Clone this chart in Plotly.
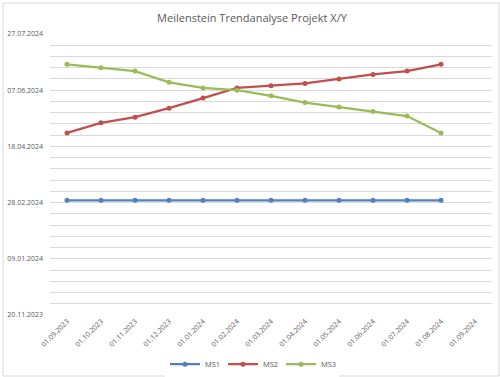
import plotly.graph_objects as go

x_labels = ["01.09.2023", "01.10.2023", "01.11.2023", "01.12.2023", "01.01.2024",
            "01.02.2024", "01.03.2024", "01.04.2024", "01.05.2024", "01.06.2024",
            "01.07.2024", "01.08.2024", "01.09.2024"]
report_dates = x_labels[:12]

ms1 = ["2024-03-01"] * 12
ms2 = ["2024-04-30", "2024-05-09", "2024-05-14", "2024-05-22", "2024-05-31", "2024-06-09",
       "2024-06-11", "2024-06-13", "2024-06-17", "2024-06-21", "2024-06-24", "2024-06-30"]
ms3 = ["2024-06-30", "2024-06-27", "2024-06-24", "2024-06-14", "2024-06-09", "2024-06-07",
       "2024-06-02", "2024-05-27", "2024-05-23", "2024-05-19", "2024-05-15", "2024-04-30"]

series = [("MS1", ms1, "#4F81BD"), ("MS2", ms2, "#C0504D"), ("MS3", ms3, "#9BBB59")]

fig = go.Figure()
for name, vals, col in series:
    fig.add_trace(go.Scatter(x=report_dates, y=vals, name=name, mode="lines+markers",
                             line=dict(color=col, width=2.25),
                             marker=dict(color=col, size=5, symbol="circle")))

DAY = 86400000
font_fam = "Open Sans, Liberation Sans, sans-serif"
fig.update_layout(
    width=500, height=377,
    margin=dict(l=50, r=8, t=34, b=62),
    paper_bgcolor="white", plot_bgcolor="white",
    title=dict(text="Meilenstein Trendanalyse Projekt X/Y", x=0.504, xanchor="center",
               y=0.953, yanchor="middle",
               font=dict(family=font_fam, size=11, color="#595959")),
    font=dict(family=font_fam, color="#595959", size=7),
    legend=dict(orientation="h", xref="container", yref="container",
                x=0.504, xanchor="center", y=0.034, yanchor="middle",
                font=dict(size=7.5, color="#595959"), itemwidth=30,
                entrywidth=13, entrywidthmode="pixels"),
    xaxis=dict(type="category", categoryorder="array", categoryarray=x_labels,
               tickvals=x_labels, range=[-0.5, 12.5], tickangle=-45,
               showgrid=False, showline=False, ticks="", zeroline=False,
               automargin=False,
               tickfont=dict(size=7, color="#595959")),
    yaxis=dict(type="date", range=["2023-11-20", "2024-07-27"],
               tick0="2023-11-20", dtick=50 * DAY, tickformat="%d.%m.%Y",
               showgrid=True, gridcolor="#D9D9D9", gridwidth=1.2,
               minor=dict(tick0="2023-11-20", dtick=10 * DAY, showgrid=True,
                          gridcolor="#D9D9D9", gridwidth=1.2),
               showline=False, zeroline=False, ticks="", ticklabelstandoff=6,
               automargin=False,
               tickfont=dict(size=7, color="#595959")),
    shapes=[dict(type="rect", xref="paper", yref="paper",
                 x0=(3 - 50) / 442, x1=(499 - 50) / 442,
                 y0=(377 - 376 - 62) / 281, y1=(377 - 3 - 62) / 281,
                 line=dict(color="#D9D9D9", width=1), layer="below")],
)

fig.write_html("out.html", config={"displayModeBar": False},
               post_script="document.body.style.margin='0';")
